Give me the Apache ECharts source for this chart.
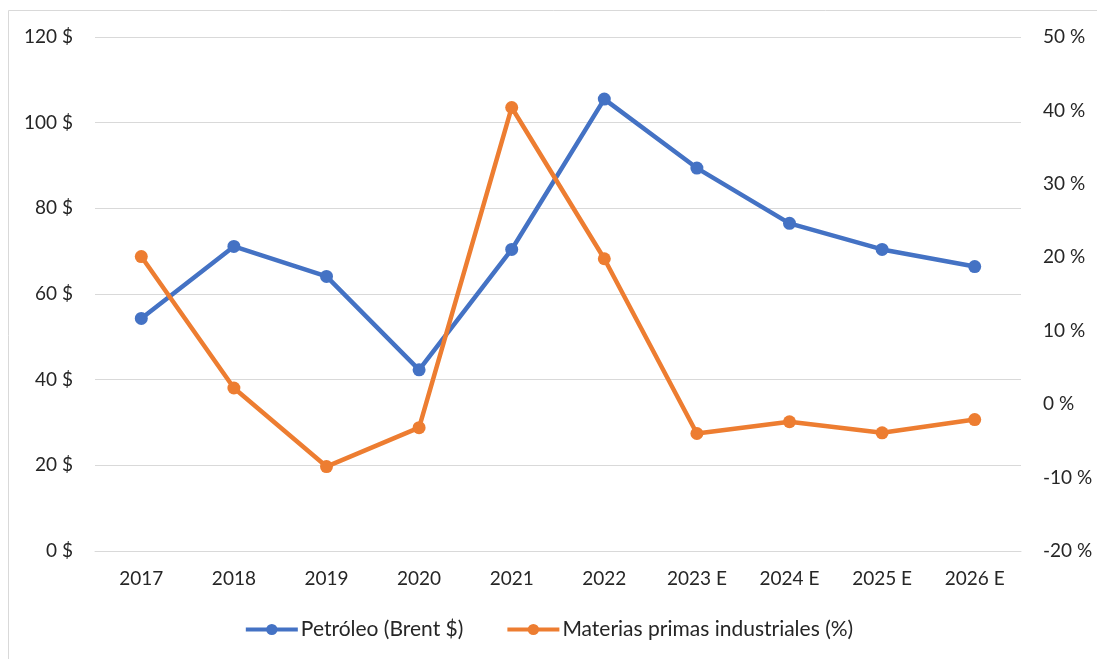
<!DOCTYPE html>
<html>
<head>
<meta charset="utf-8">
<title>Petróleo y materias primas</title>
<script src="https://cdn.jsdelivr.net/npm/echarts@6/dist/echarts.min.js"></script>
<style>
  html, body { margin: 0; padding: 0; background: #fff; }
  #chart { width: 1097px; height: 659px; }
</style>
</head>
<body>
<div id="chart"></div>
<script>
// categorías (años, E = estimación)
const years = ['2017', '2018', '2019', '2020', '2021', '2022', '2023 E', '2024 E', '2025 E', '2026 E'];
// Petróleo Brent, $ por barril (eje izquierdo)
const brent = [54.3, 71.1, 64.1, 42.3, 70.4, 105.5, 89.4, 76.5, 70.4, 66.4];
// Materias primas industriales, variación % (eje derecho)
const industriales = [20.1, 2.2, -8.5, -3.2, 40.4, 19.8, -4.0, -2.4, -3.9, -2.1];

const FONT = 'Lato, "Open Sans", sans-serif';
const chart = echarts.init(document.getElementById('chart'));

const option = {
    animation: false,
    textStyle: { fontFamily: FONT },
    graphic: [
        {
            type: 'rect',
            shape: { x: 8.5, y: 10.5, width: 1100, height: 660 },
            style: { fill: 'none', stroke: '#d9d9d9', lineWidth: 1 },
            silent: true
        }
    ],
    legend: {
        bottom: 14,
        left: 'center',
        itemWidth: 52,
        itemHeight: 14,
        itemGap: 42,
        lineStyle: { width: 4 },
        textStyle: { fontSize: 21, color: '#262626', fontFamily: FONT, padding: [0, 0, 0, -2] }
    },
    grid: {
        left: 95,
        right: 76,
        top: 37,
        bottom: 108
    },
    xAxis: {
        type: 'category',
        data: years,
        axisLine: { show: true, lineStyle: { color: '#d9d9d9', width: 1 } },
        axisTick: { show: false },
        axisLabel: { color: '#262626', fontSize: 19, margin: 18 }
    },
    yAxis: [
        {
            type: 'value',
            min: 0,
            max: 120,
            interval: 20,
            axisLine: { show: false },
            axisTick: { show: false },
            axisLabel: {
                color: '#262626', fontSize: 19, margin: 22,
                formatter: v => v + ' $'
            },
            splitLine: { lineStyle: { color: '#d9d9d9', width: 1 } }
        },
        {
            type: 'value',
            min: -20,
            max: 50,
            interval: 10,
            axisLine: { show: false },
            axisTick: { show: false },
            axisLabel: {
                color: '#262626', fontSize: 19, margin: 22,
                formatter: v => v + ' %'
            },
            splitLine: { show: false }
        }
    ],
    series: [
        {
            name: 'Petróleo (Brent $)',
            type: 'line',
            data: brent,
            yAxisIndex: 0,
            symbol: 'circle',
            symbolSize: 13,
            itemStyle: { color: '#4472C4' },
            lineStyle: { color: '#4472C4', width: 4.5 },
            z: 2
        },
        {
            name: 'Materias primas industriales (%)',
            type: 'line',
            data: industriales,
            yAxisIndex: 1,
            symbol: 'circle',
            symbolSize: 13,
            itemStyle: { color: '#ED7D31' },
            lineStyle: { color: '#ED7D31', width: 4.5 },
            z: 3
        }
    ]
};

chart.setOption(option);
</script>
</body>
</html>
